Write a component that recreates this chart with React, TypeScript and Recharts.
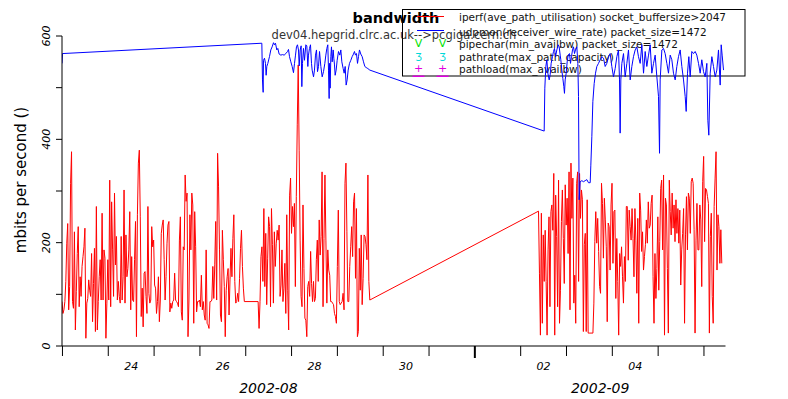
import { LineChart, Line, XAxis, YAxis, Customized } from "recharts"

// time axis is in days counted from 2002-08-00 00:00, so 32 = 2002-09-01
const domainStart = 22.99
const domainEnd = 37.47
const monthStart = 32
const dayTicks = [23, 24, 25, 26, 27, 28, 29, 30, 31, 32, 33, 34, 35, 36, 37]
const dayLabels = [24.5, 26.5, 28.5, 30.5, 33.5, 35.5]
const monthNames = ["2002-08", "2002-09"]
const rateTicks = [0, 100, 200, 300, 400, 500, 600]
const rateLabels = [0, 200, 400, 600]

const title = "bandwidth"
const subtitle = "dev04.hepgrid.clrc.ac.uk-->pcgiga.cern.ch"
const yTitle = "mbits per second ()"
const legendLabels = [
  "iperf(ave_path_utilisation) socket_buffersize>2047",
  "udpmon(receiver_wire_rate) packet_size=1472",
  "pipechar(min_availbw) packet_size=1472",
  "pathrate(max_path_capacity)",
  "pathload(max_availbw)",
]

// udpmon samples (day, mbit/s)
const udpmonDays = [
  22.99, 23.0, 27.351, 27.365, 27.38, 27.387, 27.409, 27.431, 27.445, 27.46, 27.482, 27.518, 27.547, 27.576,
  27.606, 27.627, 27.649, 27.678, 27.7, 27.729, 27.766, 27.802, 27.838, 27.875, 27.911, 27.933, 27.955,
  27.984, 28.013, 28.042, 28.064, 28.086, 28.107, 28.129, 28.151, 28.166, 28.188, 28.209, 28.224, 28.238,
  28.26, 28.282, 28.311, 28.333, 28.355, 28.369, 28.391, 28.413, 28.435, 28.449, 28.479, 28.5, 28.522,
  28.544, 28.566, 28.588, 28.61, 28.639, 28.668, 28.697, 28.726, 28.748, 28.77, 28.791, 28.806, 28.82,
  28.828, 28.842, 28.857, 28.871, 28.886, 28.908, 28.922, 28.937, 28.951, 28.973, 28.995, 29.024, 29.053,
  29.075, 29.097, 29.126, 29.148, 29.17, 29.191, 29.213, 29.235, 29.264, 29.293, 29.322, 29.351, 29.373,
  29.395, 29.417, 29.439, 29.461, 29.482, 29.511, 29.541, 29.57, 29.599, 29.628, 29.664, 29.708,
  33.513, 33.527, 33.549, 33.571, 33.593, 33.622, 33.644, 33.665, 33.694, 33.716, 33.738, 33.76, 33.789,
  33.818, 33.84, 33.862, 33.876, 33.898, 33.92, 33.942, 33.956, 33.971, 33.993, 34.015, 34.036, 34.065,
  34.087, 34.109, 34.131, 34.153, 34.175, 34.196, 34.226, 34.247, 34.262, 34.276, 34.298, 34.335, 34.371,
  34.407, 34.444, 34.48, 34.517, 34.531, 34.553, 34.575, 34.604, 34.633, 34.662, 34.698, 34.735, 34.771,
  34.808, 34.844, 34.88, 34.917, 34.953, 34.989, 35.026, 35.062, 35.099, 35.135, 35.157, 35.171, 35.186,
  35.208, 35.244, 35.28, 35.317, 35.353, 35.39, 35.426, 35.462, 35.499, 35.535, 35.571, 35.608, 35.644,
  35.681, 35.717, 35.753, 35.79, 35.826, 35.862, 35.899, 35.935, 35.972, 36.008, 36.03, 36.044, 36.081,
  36.117, 36.153, 36.19, 36.226, 36.263, 36.299, 36.335, 36.372, 36.408, 36.444, 36.481, 36.517, 36.554,
  36.59, 36.612, 36.641, 36.67, 36.699, 36.735, 36.772, 36.808, 36.844, 36.881, 36.917, 36.953, 36.99,
  37.026, 37.063, 37.085, 37.106, 37.136, 37.172, 37.208, 37.245, 37.281, 37.317, 37.354, 37.376, 37.397,
  37.427,
]
const udpmonRate = [
  547, 566, 586, 515, 491, 553, 557, 547, 524, 541, 547, 560, 573, 579,
  587, 583, 586, 573, 576, 565, 563, 564, 563, 566, 570, 574, 560,
  550, 541, 529, 547, 563, 579, 583, 573, 542, 573, 581, 502, 547,
  576, 553, 583, 581, 541, 563, 576, 583, 547, 534, 521, 534, 563,
  573, 531, 541, 570, 541, 521, 531, 547, 563, 576, 583, 534, 479,
  547, 499, 560, 579, 550, 573, 557, 544, 524, 534, 553, 570, 563,
  573, 550, 537, 528, 541, 505, 515, 534, 547, 553, 560, 565, 570,
  563, 566, 547, 560, 573, 565, 560, 550, 541, 539, 537, 534,
  416, 499, 541, 554, 528, 515, 525, 547, 560, 570, 576, 560, 573,
  583, 579, 563, 554, 534, 518, 502, 489, 515, 528, 550, 563, 566,
  547, 560, 573, 579, 566, 573, 579, 547, 483, 283, 318, 320, 318,
  320, 322, 316, 316, 350, 405, 473, 508, 528, 541, 547, 554, 560,
  557, 541, 547, 560, 566, 541, 521, 537, 560, 573, 515, 412, 515,
  547, 566, 521, 547, 573, 515, 541, 560, 573, 579, 560, 547, 583,
  528, 570, 541, 563, 583, 528, 547, 563, 521, 483, 373, 515, 573,
  576, 566, 547, 528, 563, 554, 528, 515, 541, 560, 573, 541, 515,
  483, 454, 528, 560, 521, 570, 566, 570, 563, 547, 528, 554, 531,
  521, 547, 437, 408, 528, 560, 541, 521, 534, 573, 505, 583, 563,
  534,
]

// iperf: one test every 30 minutes, in three unbroken runs
const iperfInterval = 1 / 48
const iperfRunStarts = [22.99, 27.27, 33.389]
const iperfRun1 = [
  86, 63, 70, 86, 125, 199, 237, 70, 115, 315,
  376, 86, 73, 221, 31, 105, 179, 231, 76, 134,
  96, 154, 173, 192, 228, 15, 83, 92, 128, 108,
  96, 179, 47, 121, 189, 28, 270, 31, 86, 134,
  167, 89, 257, 89, 186, 170, 15, 83, 167, 89,
  321, 76, 279, 186, 96, 296, 157, 212, 89, 125,
  96, 83, 212, 89, 134, 302, 83, 215, 134, 150,
  186, 260, 70, 173, 89, 86, 167, 241, 18, 254,
  354, 379, 250, 57, 112, 37, 141, 144, 96, 63,
  270, 102, 83, 89, 231, 192, 205, 118, 112, 63,
  86, 134, 47, 89, 218, 234, 244, 167, 89, 134,
  199, 234, 241, 66, 83, 73, 86, 89, 141, 89,
  86, 83, 76, 205, 250, 66, 50, 192, 186, 331,
  280, 296, 18, 89, 254, 186, 296, 273, 44, 260,
  192, 66, 86, 86, 89, 76, 137, 70, 86, 60,
  50, 186, 44, 41, 34, 86, 86, 89, 154, 92,
  157, 241, 89, 373, 308, 186, 60, 47, 224, 167,
  115, 18, 108, 134, 150, 60, 128, 189, 134, 208,
  254, 125, 83, 86, 102, 86, 131, 189, 224, 154,
  112, 86,
]
const iperfRun2 = [
  86, 34, 86, 173, 192, 125, 266, 115, 218, 80,
  170, 250, 231, 76, 266, 196, 83, 221, 154, 199,
  224, 205, 234, 96, 118, 186, 86, 112, 160, 63,
  254, 108, 31, 292, 325, 218, 270, 231, 276, 115,
  289, 428, 544, 379, 205, 96, 76, 273, 150, 54,
  50, 18, 115, 125, 96, 183, 121, 86, 125, 86,
  92, 167, 205, 125, 244, 176, 212, 337, 76, 208,
  331, 205, 83, 186, 147, 137, 86, 86, 83, 80,
  63, 57, 44, 154, 263, 86, 80, 83, 86, 102,
  70, 315, 354, 221, 86, 86, 154, 192, 231, 173,
  279, 296, 131, 266, 18, 28, 189, 108, 215, 80,
  131, 215, 212, 196, 167, 331, 125, 89,
]
const iperfRun3 = [
  261, 141, 21, 257, 44, 215, 125, 224, 125, 21,
  186, 250, 76, 260, 273, 224, 334, 21, 292, 212,
  76, 321, 44, 108, 241, 302, 208, 121, 312, 234,
  286, 179, 337, 70, 354, 247, 325, 83, 137, 44,
  315, 337, 125, 334, 247, 302, 283, 28, 196, 218,
  28, 283, 25, 25, 25, 25, 25, 25, 83, 202,
  260, 199, 247, 183, 115, 102, 315, 276, 170, 286,
  244, 192, 47, 238, 231, 147, 273, 315, 160, 260,
  263, 92, 208, 125, 21, 179, 154, 192, 134, 83,
  173, 125, 270,
  270, 166, 263, 231, 205, 266, 208, 134, 266, 205,
  102, 247, 44, 296, 263, 183, 221, 147, 173, 196,
  244, 199, 279, 228, 234, 276, 292, 134, 44, 179,
  92, 150, 250, 108, 202, 305, 321, 186, 331, 21,
  286, 273, 150, 25, 321, 260, 215, 296, 228, 273,
  202, 283, 218, 266, 199, 263, 118, 186, 218, 266,
  44, 215, 289, 186, 296, 286, 218, 318, 325, 315,
  225, 25, 205, 276, 186, 186, 273, 244, 115, 318,
  367, 202, 305, 302, 289, 276, 25, 212, 257, 96,
  44, 270, 325, 376, 147, 254, 231, 160, 225, 160,
]

const udpmonData = udpmonDays.map((t, i) => ({ t, v: udpmonRate[i] }))
const iperfData = [iperfRun1, iperfRun2, iperfRun3].flatMap((run, r) =>
  run.map((v, i) => ({ t: iperfRunStarts[r] + i * iperfInterval, v }))
)

const monthCenters = [(domainStart + monthStart) / 2, (monthStart + domainEnd) / 2]
const xTicks = [...dayTicks, ...dayLabels, ...monthCenters]

const font = "DejaVu Sans"

const XTick = ({ x, y, payload }: any) => {
  const d = payload.value
  if (dayTicks.includes(d)) {
    const major = d === monthStart
    return <line x1={x} x2={x} y1={y} y2={y + (major ? 12 : 10)} stroke="#000" strokeWidth={major ? 2 : 1} />
  }
  if (dayLabels.includes(d)) {
    const day = Math.floor(d) > 31 ? Math.floor(d) - 31 : Math.floor(d)
    return (
      <text x={x} y={y + 24} textAnchor="middle" fontSize={11} fontStyle="italic" fontFamily={font} fill="#000">
        {String(day).padStart(2, "0")}
      </text>
    )
  }
  const m = monthCenters.findIndex((c) => Math.abs(c - d) < 1e-6)
  if (m < 0) return null
  return (
    <text x={x} y={y + 47} textAnchor="middle" fontSize={14} fontStyle="italic" fontFamily={font} fill="#000">
      {monthNames[m]}
    </text>
  )
}

const YTick = ({ x, y, payload }: any) => {
  if (!rateLabels.includes(payload.value)) return null
  const bx = x - 6
  return (
    <text x={bx} y={y} transform={`rotate(-90 ${bx} ${y})`} textAnchor="middle" fontSize={11} fontStyle="italic" fontFamily={font} fill="#000">
      {payload.value}
    </text>
  )
}

const legendRows = [20.7, 35.7, 47.7, 60.7, 73.3]

const Overlay = () => (
  <g fontFamily={font}>
    <text x={396} y={23} textAnchor="middle" fontSize={14.5} fontWeight="bold" fill="#000">{title}</text>
    <text x={394} y={39} textAnchor="middle" fontSize={11.5} fill="#333">{subtitle}</text>
    <text x={26} y={180} transform="rotate(-90 26 180)" textAnchor="middle" fontSize={15} fill="#000">{yTitle}</text>
    <rect x={402.5} y={9.5} width={342.5} height={66.5} fill="none" stroke="#000" />
    <line x1={417} x2={444} y1={16.5} y2={16.5} stroke="#ff0000" />
    <line x1={417} x2={444} y1={30.5} y2={30.5} stroke="#0000ff" />
    {[418.5, 442.5].map((cx) => (
      <g key={cx}>
        <text x={cx} y={47} textAnchor="middle" fontSize={11} fill="#00e000">V</text>
        <text x={cx} y={61} textAnchor="middle" fontSize={10} fill="#00d8d8">Ʒ</text>
        <text x={cx} y={72} textAnchor="middle" fontSize={11} fill="#e000e0">+</text>
        <rect x={cx - 6} y={75.5} width={12} height={1.5} fill="#e000e0" />
      </g>
    ))}
    {legendLabels.map((s, i) => (
      <text key={s} x={459} y={legendRows[i]} fontSize={10.5} fill="#111">{s}</text>
    ))}
  </g>
)

export default function App() {
  return (
    <div style={{ position: "absolute", left: 0, top: 0, background: "#fff", fontFamily: font }}>
      <LineChart width={788} height={399} margin={{ top: 36, right: 62.5, bottom: 0, left: 0 }}>
        <XAxis
          type="number"
          dataKey="t"
          domain={[domainStart, domainEnd]}
          allowDataOverflow
          ticks={xTicks}
          interval={0}
          tickLine={false}
          tickSize={0}
          tickMargin={0}
          tick={XTick}
          height={53}
          stroke="#000"
        />
        <YAxis
          type="number"
          domain={[0, 600]}
          ticks={rateTicks}
          interval={0}
          tickSize={6}
          tickMargin={0}
          tick={YTick}
          width={62}
          stroke="#000"
          allowDataOverflow
        />
        <Line data={iperfData} dataKey="v" type="linear" stroke="#ff0000" strokeWidth={1} dot={false} activeDot={false} isAnimationActive={false} />
        <Line data={udpmonData} dataKey="v" type="linear" stroke="#0000ff" strokeWidth={1} dot={false} activeDot={false} isAnimationActive={false} />
        <Customized component={Overlay} />
      </LineChart>
    </div>
  )
}
